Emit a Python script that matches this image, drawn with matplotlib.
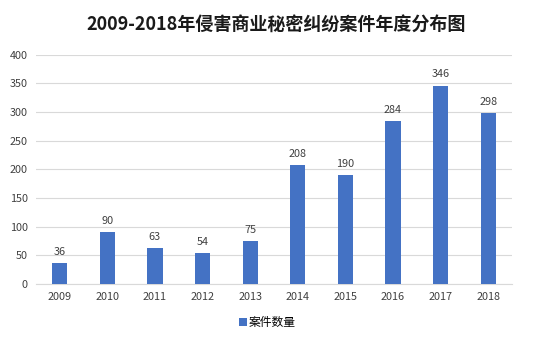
import matplotlib
matplotlib.use("Agg")
import matplotlib.pyplot as plt
import numpy as np

plt.rcParams['font.family'] = ['Noto Sans CJK SC', 'DejaVu Sans']

years = ['2009', '2010', '2011', '2012', '2013', '2014', '2015', '2016', '2017', '2018']
cases = [36, 90, 63, 54, 75, 208, 190, 284, 346, 298]
yticks = [0, 50, 100, 150, 200, 250, 300, 350, 400]
title = '2009-2018年侵害商业秘密纠纷案件年度分布图'
series_name = '案件数量'

fig = plt.figure(figsize=(5.52, 3.45), dpi=100)
ax = fig.add_axes([0.065, 0.177, 0.8625, 0.664])
x = np.arange(len(years))
bars = ax.bar(x, cases, width=0.32, color='#4472C4', label=series_name, zorder=3)
for xi, v in zip(x, cases):
    ax.text(xi, v + 11, str(v), ha='center', va='bottom', fontsize=7.8, color='#404040')

ax.set_xlim(-0.5, len(years) - 0.5)
ax.set_ylim(0, 400)
ax.set_yticks(yticks)
ax.set_yticklabels([str(t) for t in yticks], fontsize=7.8, color='#404040')
ax.set_xticks(x)
ax.set_xticklabels(years, fontsize=7.8, color='#404040')
ax.grid(axis='y', color='#D9D9D9', linewidth=0.8, zorder=0)
for s in ['top', 'right', 'left']:
    ax.spines[s].set_visible(False)
ax.spines['bottom'].set_color('#D9D9D9')
ax.tick_params(axis='both', length=0, pad=6)

fig.text(0.5, 0.93, title, ha='center', va='center', fontsize=13, fontweight='bold', color='#1a1a1a')
fig.legend(handles=[bars], labels=[series_name], loc='center', bbox_to_anchor=(0.485, 0.065),
           frameon=False, fontsize=8.5, handlelength=0.6, handleheight=0.6, handletextpad=0.2)

fig.savefig('out.png', dpi=100)
